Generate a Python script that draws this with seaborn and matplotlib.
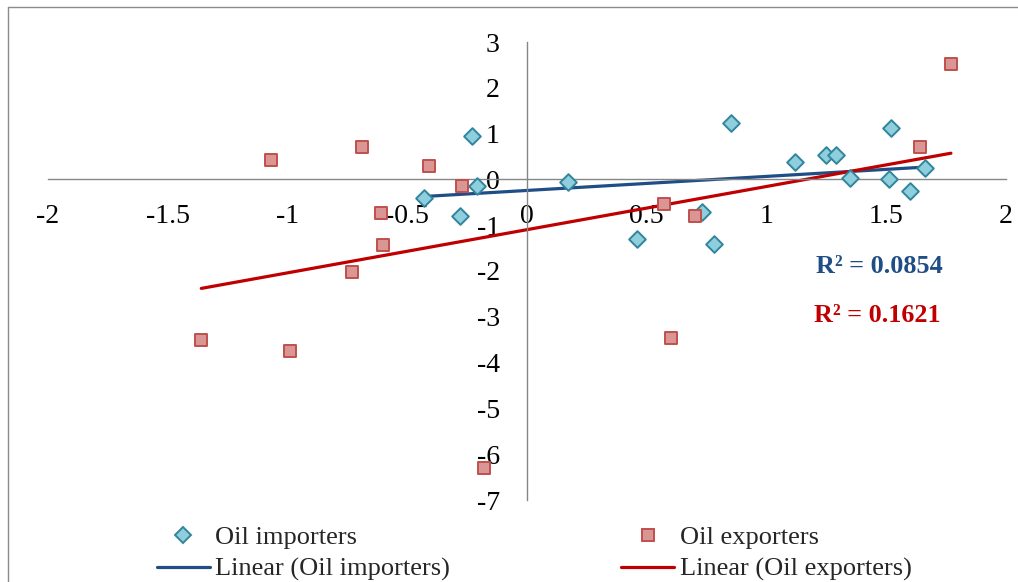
import numpy as np
import pandas as pd
import seaborn as sns
import matplotlib.pyplot as plt
from matplotlib.lines import Line2D

# values
imp_x = [-0.43, -0.28, -0.23, -0.21, 0.17, 0.46, 0.73, 0.78, 0.85, 1.12,
         1.25, 1.29, 1.35, 1.51, 1.52, 1.60, 1.66]
imp_y = [-0.40, -0.80, 0.94, -0.15, -0.06, -1.30, -0.71, -1.42, 1.24, 0.38,
         0.53, 0.53, 0.03, 0.01, 1.12, -0.26, 0.25]

exp_x = [-1.36, -1.07, -0.99, -0.73, -0.69, -0.61, -0.60, -0.41, -0.27, -0.18,
         0.57, 0.60, 0.70, 1.64, 1.77]
exp_y = [-3.50, 0.43, -3.74, -2.02, 0.71, -0.73, -1.43, 0.29, -0.15, -6.30,
         -0.53, -3.47, -0.79, 0.70, 2.53]

r2_imp = "R² = 0.0854"
r2_exp = "R² = 0.1621"

x_ticks = [-2, -1.5, -1, -0.5, 0, 0.5, 1, 1.5, 2]
x_labels = ["-2", "-1.5", "-1", "-0.5", "0", "0.5", "1", "1.5", "2"]
y_ticks = [-7, -6, -5, -4, -3, -2, -1, 0, 1, 2, 3]

sns.set_style("white")
plt.rcParams['font.family'] = ['Liberation Serif', 'DejaVu Serif']
plt.rcParams['axes.unicode_minus'] = False

df_imp = pd.DataFrame({'x': imp_x, 'y': imp_y})
df_exp = pd.DataFrame({'x': exp_x, 'y': exp_y})

W, H = 1018, 582
fig = plt.figure(figsize=(W / 100, H / 100), dpi=100)
ax = fig.add_axes([48 / W, 1 - 500 / H, (1006 - 48) / W, (500 - 42) / H])

blue_line = '#1F4E87'
red_line = '#C00000'
imp_fill, imp_edge = '#8FCFDD', '#31859C'
exp_fill, exp_edge = '#DA9694', '#C0504D'

sns.regplot(data=df_imp, x='x', y='y', scatter=False, ci=None, ax=ax,
            line_kws=dict(color=blue_line, lw=2.3, zorder=2))
sns.regplot(data=df_exp, x='x', y='y', scatter=False, ci=None, ax=ax,
            line_kws=dict(color=red_line, lw=2.3, zorder=2))
sns.scatterplot(data=df_imp, x='x', y='y', marker='D', s=72, color=imp_fill,
                edgecolor=imp_edge, linewidth=1.4, ax=ax, zorder=3)
sns.scatterplot(data=df_exp, x='x', y='y', marker='s', s=80, color=exp_fill,
                edgecolor=exp_edge, linewidth=1.4, ax=ax, zorder=3)

ax.set_xlim(-2, 2)
ax.set_ylim(-7, 3)
ax.set_xticks(x_ticks)
ax.set_xticklabels(x_labels)
ax.set_yticks(y_ticks)
ax.set_xlabel('')
ax.set_ylabel('')

for side in ['top', 'right']:
    ax.spines[side].set_visible(False)
for side in ['left', 'bottom']:
    ax.spines[side].set_position(('data', 0))
    ax.spines[side].set_color('#868686')
    ax.spines[side].set_linewidth(1.0)
ax.tick_params(axis='both', direction='out', length=5.5, width=1.0,
               color='#868686', labelsize=20, labelcolor='black')
ax.tick_params(axis='x', pad=12)
ax.tick_params(axis='y', pad=14)
ax.patch.set_alpha(0)

fig.text(816 / W, 1 - 267 / H, r2_imp, color=blue_line, fontsize=18.8,
         fontweight='bold', va='center', ha='left')
fig.text(814 / W, 1 - 315 / H, r2_exp, color=red_line, fontsize=18.8,
         fontweight='bold', va='center', ha='left')

# chart frame (only top and left edges fall inside the picture)
fig.add_artist(Line2D([8 / W, 1], [1 - 7 / H, 1 - 7 / H], transform=fig.transFigure,
                      color='#8C8C8C', lw=1.0))
fig.add_artist(Line2D([8 / W, 8 / W], [0, 1 - 7 / H], transform=fig.transFigure,
                      color='#8C8C8C', lw=1.0))

handles = [
    Line2D([], [], ls='none', marker='D', ms=8.2, mfc=imp_fill, mec=imp_edge, mew=1.4),
    Line2D([], [], color=blue_line, lw=2.3),
    Line2D([], [], ls='none', marker='s', ms=8.9, mfc=exp_fill, mec=exp_edge, mew=1.4),
    Line2D([], [], color=red_line, lw=2.3),
]
labels = ['Oil importers', 'Linear (Oil importers)',
          'Oil exporters', 'Linear (Oil exporters)']
fig.legend(handles, labels, ncol=2, loc='upper left',
           bbox_to_anchor=(157 / W, 1 - 526 / H), frameon=False,
           fontsize=19, handlelength=2.0, handletextpad=0.2,
           columnspacing=6.5, labelspacing=0.3, borderpad=0, borderaxespad=0)

fig.savefig('out.png', dpi=100)
